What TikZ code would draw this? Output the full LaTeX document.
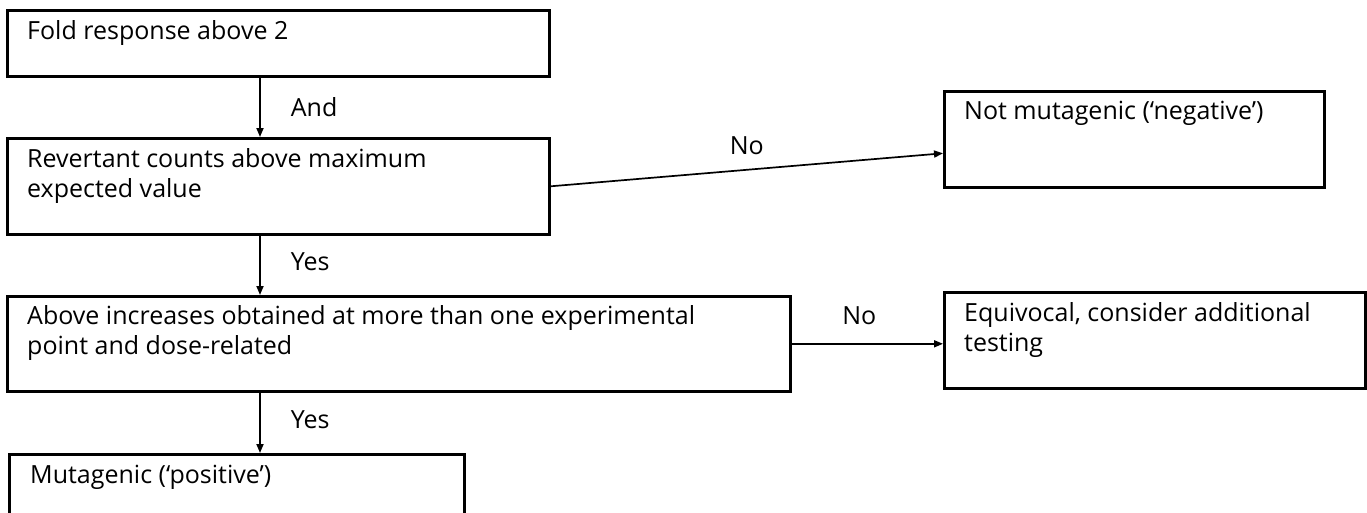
\documentclass[tikz,border=0pt]{standalone}
\usepackage{fontspec}
\setmainfont{Open Sans}
\usetikzlibrary{arrows.meta,positioning}

\begin{document}
\begin{tikzpicture}[x=1pt, y=-1pt,
  box/.style={draw, line width=2.6pt, rectangle, anchor=north west, inner sep=0pt},
  boxtext/.style={anchor=base west, align=left, inner sep=0pt, font=\fontsize{25}{30}\selectfont},
  lbl/.style={inner sep=0pt, font=\fontsize{25}{30}\selectfont},
  arrow/.style={line width=1.7pt, -{Triangle[length=9pt,width=7pt]}}]
\path[use as bounding box, clip] (0,0) rectangle (1367,512);

% boxes
\node[box, minimum width=542pt, minimum height=66pt] (fold) at (6,9) {};
\node[box, minimum width=542pt, minimum height=96pt] (revertant) at (6,137) {};
\node[box, minimum width=380pt, minimum height=96pt] (notmut) at (943,90) {};
\node[box, minimum width=783pt, minimum height=95pt] (above) at (6,295) {};
\node[box, minimum width=421pt, minimum height=96pt] (equiv) at (943,291) {};
\node[box, minimum width=455pt, minimum height=96pt] (mutagenic) at (8,453) {};

% texts (base = last line, so two-line boxes sit one line lower)
\node[boxtext] (foldtxt) at ([shift={(21,30)}]fold.north west) {Fold response above 2};
\node[boxtext] (revertanttxt) at ([shift={(21,60)}]revertant.north west) {Revertant counts above maximum\\expected value};
\node[boxtext] (notmuttxt) at ([shift={(21,29)}]notmut.north west) {Not mutagenic (‘negative’)};
\node[boxtext] (abovetxt) at ([shift={(21,59)}]above.north west) {Above increases obtained at more than one experimental\\point and dose-related};
\node[boxtext] (equivtxt) at ([shift={(21,60)}]equiv.north west) {Equivocal, consider additional\\testing};
\node[boxtext] (mutagenictxt) at ([shift={(22,30)}]mutagenic.north west) {Mutagenic (‘positive’)};

% connectors
\coordinate (stem) at (260,0);
\draw[arrow] (fold.south -| stem) -- (revertant.north -| stem)
  node[lbl, midway, right=30pt] (and) {And};
\draw[arrow] (revertant.east) -- ([yshift=-14pt]notmut.west)
  node[lbl, midway, above=14pt] (no1) {No};
\draw[arrow] (revertant.south -| stem) -- (above.north -| stem)
  node[lbl, midway, right=30pt, yshift=4pt] (yes1) {Yes};
\draw[arrow] (above.east) -- (above.east -| equiv.west)
  node[lbl, midway, above=18pt, xshift=-8pt] (no2) {No};
\draw[arrow] (above.south -| stem) -- (mutagenic.north -| stem)
  node[lbl, midway, right=30pt, yshift=3pt] (yes2) {Yes};
\end{tikzpicture}
\end{document}
